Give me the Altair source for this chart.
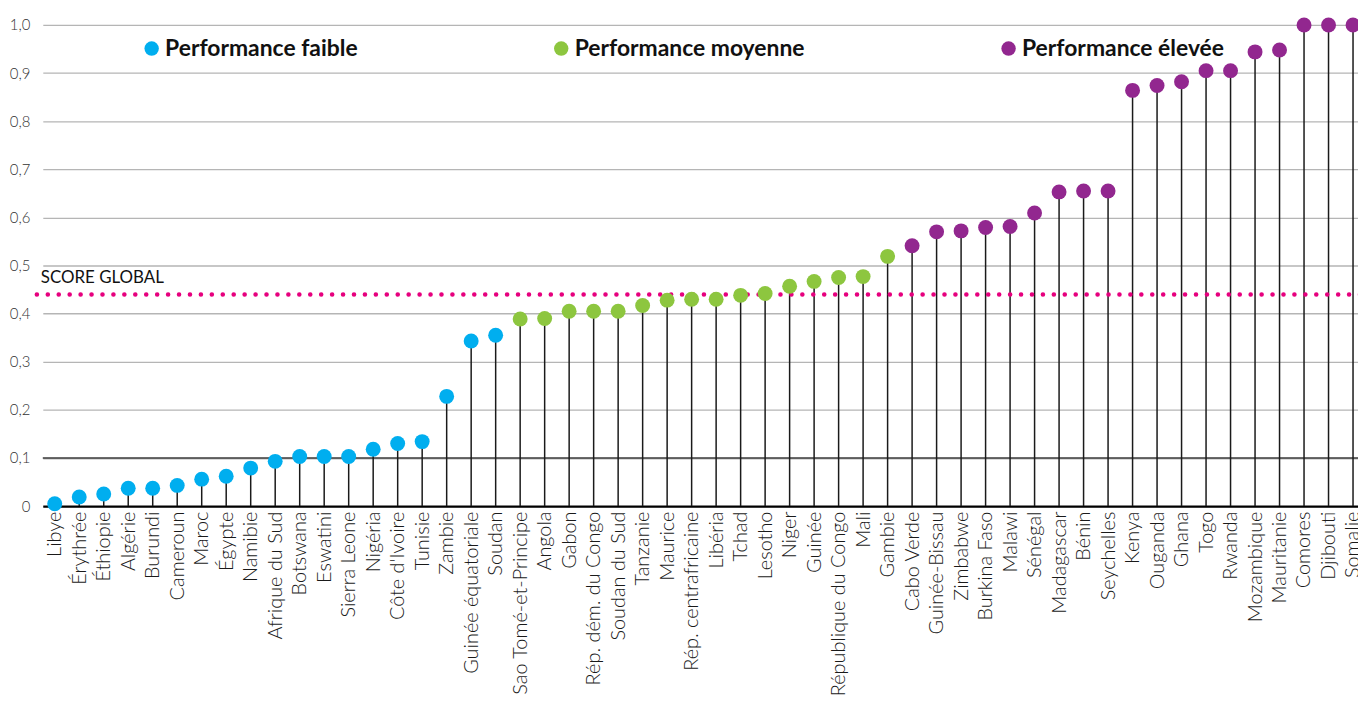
import altair as alt
import pandas as pd

# ---- data ----
countries = [
    "Libye", "Érythrée", "Éthiopie", "Algérie", "Burundi", "Cameroun", "Maroc",
    "Égypte", "Namibie", "Afrique du Sud", "Botswana", "Eswatini", "Sierra Leone",
    "Nigéria", "Côte d'Ivoire", "Tunisie", "Zambie", "Guinée équatoriale", "Soudan",
    "Sao Tomé-et-Principe", "Angola", "Gabon", "Rép. dém. du Congo", "Soudan du Sud",
    "Tanzanie", "Maurice", "Rép. centrafricaine", "Libéria", "Tchad", "Lesotho",
    "Niger", "Guinée", "République du Congo", "Mali", "Gambie",
    "Cabo Verde", "Guinée-Bissau", "Zimbabwe", "Burkina Faso", "Malawi", "Sénégal",
    "Madagascar", "Bénin", "Seychelles", "Kenya", "Ouganda", "Ghana", "Togo",
    "Rwanda", "Mozambique", "Mauritanie", "Comores", "Djibouti", "Somalie",
]
scores = [
    0.005, 0.019, 0.025, 0.037, 0.037, 0.043, 0.056,
    0.062, 0.079, 0.093, 0.103, 0.103, 0.103,
    0.118, 0.130, 0.134, 0.228, 0.343, 0.355,
    0.389, 0.390, 0.405, 0.405, 0.405,
    0.417, 0.428, 0.430, 0.430, 0.438, 0.442,
    0.457, 0.467, 0.475, 0.477, 0.519,
    0.541, 0.570, 0.572, 0.579, 0.581, 0.609,
    0.653, 0.655, 0.655, 0.864, 0.874, 0.882, 0.905,
    0.905, 0.944, 0.948, 1.0, 1.0, 1.0,
]
group_codes = [
    "F", "F", "F", "F", "F", "F", "F",
    "F", "F", "F", "F", "F", "F",
    "F", "F", "F", "F", "F", "F",
    "M", "M", "M", "M", "M",
    "M", "M", "M", "M", "M", "M",
    "M", "M", "M", "M", "M",
    "E", "E", "E", "E", "E", "E",
    "E", "E", "E", "E", "E", "E", "E",
    "E", "E", "E", "E", "E", "E",
]
group_names = {"F": "Performance faible", "M": "Performance moyenne", "E": "Performance élevée"}
legend_order = ["Performance faible", "Performance moyenne", "Performance élevée"]
legend_colors = ["#00AEEF", "#8DC63F", "#92278F"]

score_global = 0.44
score_label = "SCORE GLOBAL"
y_ticks = [0, 0.1, 0.2, 0.3, 0.4, 0.5, 0.6, 0.7, 0.8, 0.9, 1.0]

W, H = 1323, 484

df = pd.DataFrame({
    "pays": countries,
    "score": scores,
    "groupe": [group_names[c] for c in group_codes],
})
ref_df = pd.DataFrame({"v": [score_global], "label": [score_label]})

x_enc = alt.X(
    "pays:N",
    sort=countries,
    scale=alt.Scale(type="point", padding=0.345, align=0.706),
    axis=alt.Axis(
        title=None, labelAngle=-90, labelFont="Lato", labelFontSize=20,
        labelFontWeight=300, labelColor="#1a1a1a", ticks=False,
        domainColor="#000000", domainWidth=2.2, labelPadding=5,
        labelOverlap=False, labelLimit=400,
    ),
)
y_scale = alt.Scale(domain=[0, 1], nice=False)
y_enc = alt.Y(
    "score:Q",
    scale=y_scale,
    axis=alt.Axis(
        title=None, values=y_ticks, domain=False, ticks=False,
        grid=True, gridColor="#b5b5b5", gridWidth=1.3,
        labelFont="Lato", labelFontSize=15, labelFontWeight=300,
        labelColor="#333333", labelPadding=13,
        labelExpr="datum.value == 0 ? '0' : replace(format(datum.value, '.1f'), '.', ',')",
    ),
)

base = alt.Chart(df)

stems = base.mark_rule(color="#1a1a1a", strokeWidth=1.5).encode(
    x=x_enc, y=y_enc, y2=alt.datum(0)
)

dark_line = alt.Chart(ref_df).mark_rule(color="#3a3a3a", strokeWidth=1.6).encode(
    y=alt.datum(0.1), x=alt.value(0), x2=alt.value(W)
)

dotted = alt.Chart(ref_df).mark_rule(
    color="#E6007E", strokeWidth=4.5, strokeDash=[0.1, 10.9], strokeCap="round"
).encode(
    y=alt.Y("v:Q", scale=y_scale), x=alt.value(-6), x2=alt.value(W + 10)
)

score_text = alt.Chart(ref_df).mark_text(
    align="left", baseline="alphabetic", dy=-11, font="Lato", fontSize=17,
    color="#111111"
).encode(
    y=alt.Y("v:Q", scale=y_scale), x=alt.value(-2), text="label:N"
)

points = base.mark_circle(size=225, opacity=1).encode(
    x=x_enc,
    y=y_enc,
    color=alt.Color(
        "groupe:N",
        scale=alt.Scale(domain=legend_order, range=legend_colors),
        legend=alt.Legend(
            title=None, orient="none", legendX=98, legendY=12,
            direction="horizontal", symbolType="circle", symbolSize=210,
            symbolStrokeWidth=0, symbolOpacity=1, labelFont="Lato",
            labelFontSize=23, labelFontWeight="bold", labelColor="#111111",
            labelOffset=2, columnPadding=193, padding=0, labelLimit=400,
        ),
    ),
)

chart = alt.layer(dark_line, stems, dotted, score_text, points).properties(
    width=W, height=H,
    autosize=alt.AutoSizeParams(type="none"),
    padding={"left": 35, "top": 15, "right": 0, "bottom": 192},
).configure_view(stroke=None)

chart.save("out.html", embed_options={"renderer": "svg", "actions": False})
